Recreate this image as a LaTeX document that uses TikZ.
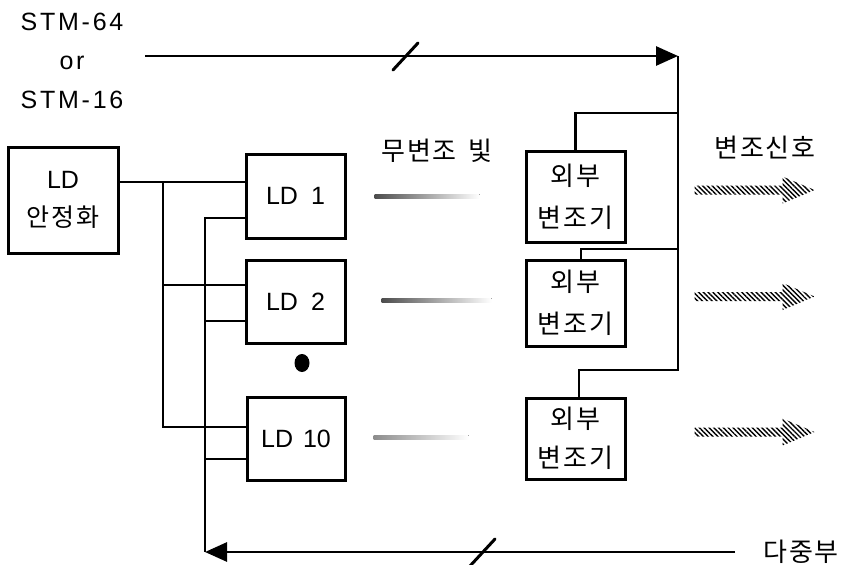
\documentclass[tikz,border=0pt]{standalone}
\usepackage{fontspec}
\setmainfont{Liberation Sans}
\newfontfamily\kor[LetterSpace=7]{Noto Sans CJK KR}
\usetikzlibrary{calc, arrows.meta, patterns.meta}

\begin{document}
\begin{tikzpicture}[x=1pt, y=-1pt,
    box/.style={draw, line width=3pt, inner sep=0pt, align=center},
    wire/.style={line width=2.6pt},
    bus/.style={line width=2.8pt, -{Triangle[length=22pt, width=19pt]}},
    tick/.style={line width=3pt, line cap=round},
    lbl/.style={font=\fontsize{25}{39}\selectfont, align=center},
    kr/.style={font=\kor\fontsize{26}{42}\selectfont, align=center},
    beam/.style={left color=black!70, right color=white, draw=none},
    hatch/.style={pattern={Lines[angle=-45, distance=3.4pt, line width=1.4pt]}}]
    \useasboundingbox (0,0) rectangle (841,565);

    \node[box, minimum width=110pt, minimum height=106pt, font=\fontsize{25}{38}\selectfont] (stab) at (63,200) {LD\\{\kor 안정화}};
    \node[box, lbl, minimum width=99pt, minimum height=84pt] (ld1) at (295.5,196) {LD\hspace{13pt}1};
    \node[box, lbl, minimum width=99pt, minimum height=83pt] (ld2) at (295.5,301.5) {LD\hspace{13pt}2};
    \node[box, lbl, minimum width=98pt, minimum height=83pt] (ld10) at (296,438.5) {LD\hspace{10pt}10};
    \node[box, kr, minimum width=99pt, minimum height=91pt] (mod1) at (575.5,196.5) {외부\\변조기};
    \node[box, kr, minimum width=99pt, minimum height=86pt] (mod2) at (575.5,303) {외부\\변조기};
    \node[box, kr, minimum width=99pt, minimum height=81pt, font=\kor\fontsize{26}{39}\selectfont] (mod3) at (575.5,438.5) {외부\\변조기};

    \node[lbl, font=\addfontfeature{LetterSpace=11}\fontsize{25}{39}\selectfont] (stm) at (72,61) {STM-64\\or\\STM-16};
    \node[kr] (cw) at (437,151) {무변조\hspace{4pt} 빛};
    \node[kr] (sig) at (765,148) {변조신호};
    \node[kr] (mux) at (801,552) {다중부};

    \coordinate (stmin) at (145,56);
    \coordinate (feed) at (678,56);
    \coordinate (t1) at (678,113);
    \coordinate (t2) at (678,249);
    \coordinate (busend) at (678,370);
    \coordinate (muxin) at (735,552);
    \coordinate (splitA) at (163,0);
    \coordinate (splitB) at (205,0);
    \coordinate (p1) at ($(ld1.west)+(0,-14)$);
    \coordinate (q1) at ($(ld1.west)+(0,22)$);
    \coordinate (p2) at ($(ld2.west)+(0,-16.5)$);
    \coordinate (q2) at ($(ld2.west)+(0,19.5)$);
    \coordinate (p3) at ($(ld10.west)+(0,-11.5)$);
    \coordinate (q3) at ($(ld10.west)+(0,20.5)$);

    \draw[bus] (stmin) -- (feed);
    \draw[wire] (feed) -- (busend) -| ($(mod3.north)+(3.5,0)$);
    \draw[wire] (t1) -| (mod1.north);
    \draw[wire] (t2) -| ($(mod2.north)+(5.5,0)$);

    \draw[wire] (stab.east |- p1) -- (p1);
    \draw[wire] (splitA |- p1) |- (p3);
    \draw[wire] (splitA |- p2) -- (p2);
    \draw[wire] (q1) -| (splitB |- muxin);
    \draw[wire] (splitB |- q2) -- (q2);
    \draw[wire] (splitB |- q3) -- (q3);
    \draw[bus] (muxin) -- (splitB |- muxin);

    \draw[tick] ($(405,56)+(-12,14)$) -- ++(25,-27);
    \draw[tick] ($(482,552)+(-12,14)$) -- ++(25,-27);

    \fill (302,363) ellipse [x radius=7.5pt, y radius=9pt];

    \fill[beam] ($(ld1.east)+(28,-2)$) rectangle ++(105,4);
    \fill[beam] ($(ld2.east)+(35,-3.5)$) rectangle ++(110,4);
    \fill[beam, left color=black!45] ($(ld10.east)+(27,-3.5)$) rectangle ++(95,4);

    \foreach \m in {mod1,mod2,mod3}
        \path[hatch] ($(\m.east)+(68,-11)$) -- ++(88,0) -- ++(0,-9) -- ++(32,13.5) -- ++(-32,13.5) -- ++(0,-9) -- ++(-88,0) -- cycle;
\end{tikzpicture}
\end{document}
